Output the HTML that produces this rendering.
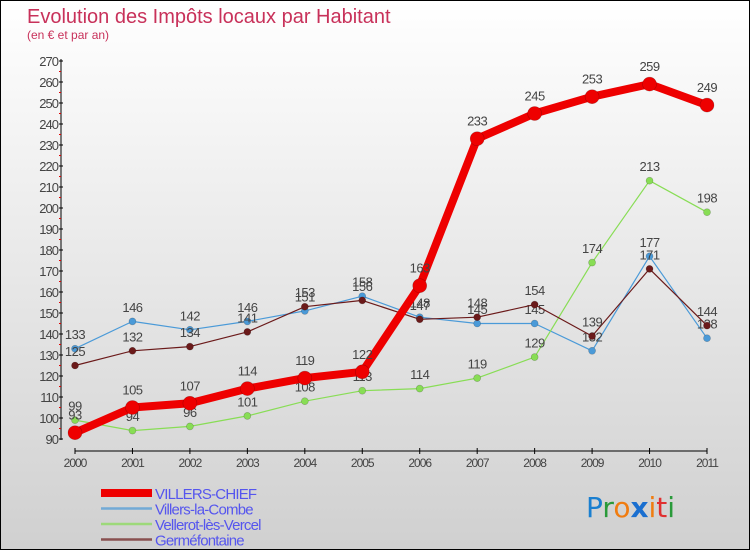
<!DOCTYPE html>
<html><head><meta charset="utf-8"><style>
html,body{margin:0;padding:0}
body{width:750px;height:550px;overflow:hidden;font-family:"Liberation Sans",sans-serif}
#wrap{position:absolute;left:0;top:0;width:748px;height:548px;border:1px solid #000;background:linear-gradient(#ffffff,#d0d0d0)}
</style></head><body>
<div id="wrap">
<svg id="chart" width="748" height="548" xmlns="http://www.w3.org/2000/svg">
<text x="26" y="22" font-size="20" fill="#c8315a">Evolution des Impôts locaux par Habitant</text>
<text x="26" y="38" font-size="12" fill="#c8315a">(en € et par an)</text>
<g id="axes"></g><g id="series"></g>
<g id="legend"></g>
<text x="585" y="516" font-size="28" font-family="'DejaVu Sans',sans-serif"><tspan fill="#1a7fd0">P</tspan><tspan fill="#2a9a3a">r</tspan><tspan fill="#f07c10">o</tspan><tspan fill="#1a6fd0" font-weight="bold">x</tspan><tspan fill="#f07c10">i</tspan><tspan fill="#e03030">t</tspan><tspan fill="#2a9a3a">i</tspan></text>
</svg></div>
<script>
const years=[2000,2001,2002,2003,2004,2005,2006,2007,2008,2009,2010,2011];
const yTicks=[90,100,110,120,130,140,150,160,170,180,190,200,210,220,230,240,250,260,270];
const villersChief=[93,105,107,114,119,122,163,233,245,253,259,249];
const villersLaCombe=[133,146,142,146,151,158,148,145,145,132,177,138];
const vellerot=[99,94,96,101,108,113,114,119,129,174,213,198];
const germefontaine=[125,132,134,141,153,156,147,148,154,139,171,144];
const NS="http://www.w3.org/2000/svg";
const X0=74,X1=706,Y0=438,YMIN=90,YMAX=270,Y1=60;
const xs=i=>X0+(X1-X0)*i/(years.length-1);
const ys=v=>Y0-(v-YMIN)*(Y0-Y1)/(YMAX-YMIN);
function mk(tag,attrs,parent){const e=document.createElementNS(NS,tag);for(const k in attrs)e.setAttribute(k,attrs[k]);parent.appendChild(e);return e;}
const axes=document.getElementById('axes');
let e=mk('line',{x1:60,y1:Y1-2,x2:60,y2:Y0+1,stroke:'#000','stroke-width':1},axes);


e=mk('line',{x1:X0,y1:450,x2:X1,y2:450,stroke:'#000','stroke-width':1},axes);


yTicks.forEach((t,i)=>{
  const y=ys(t);
  mk('line',{x1:58,y1:y,x2:62,y2:y,stroke:'#000'},axes);
  if(i<yTicks.length-1) mk('line',{x1:58,y1:y-(Y0-Y1)/36,x2:60,y2:y-(Y0-Y1)/36,stroke:'#e00000'},axes);
  const tx=mk('text',{x:57,y:y+5,'font-size':13,fill:'#444','text-anchor':'end','letter-spacing':'-1'},axes);
  tx.textContent=t;
  
  
});
years.forEach((yr,i)=>{
  const x=xs(i);
  mk('line',{x1:x,y1:447,x2:x,y2:453,stroke:'#000'},axes);
  const tx=mk('text',{x:x,y:466,'font-size':12,fill:'#444','text-anchor':'middle','letter-spacing':'-1'},axes);
  tx.textContent=yr;
  
  
});
const series=[
 {name:'Villers-la-Combe',data:villersLaCombe,color:'#4a9ad8',w:1.2,r:3.5,id:'villers-la-combe'},
 {name:'Vellerot-lès-Vercel',data:vellerot,color:'#88dd55',w:1.2,r:3.5,id:'vellerot-les-vercel'},
 {name:'Germéfontaine',data:germefontaine,color:'#6b1a1a',w:1.2,r:3.5,id:'germefontaine'},
 {name:'VILLERS-CHIEF',data:villersChief,color:'#ee0000',w:8,r:7,id:'villers-chief'}
];
const sg=document.getElementById('series');
series.forEach(s=>{
  const g=mk('g',{},sg);
  
  
  const pts=s.data.map((v,i)=>xs(i)+','+ys(v)).join(' ');
  const pl=mk('polyline',{points:pts,fill:'none',stroke:s.color,'stroke-width':s.w,'stroke-linejoin':'round'},g);
  
  
  s.data.forEach((v,i)=>{
    const c=mk('circle',{cx:xs(i),cy:ys(v),r:s.r,fill:s.color,stroke:'rgba(0,0,0,0.25)','stroke-width':0.6},g);
    
    
    const t=mk('text',{x:xs(i),y:ys(v)-(s.r+6),'font-size':13,fill:'#444','text-anchor':'middle','letter-spacing':'-0.5'},g);
    t.textContent=v;
    
    
  });
});
const lg=document.getElementById('legend');
const order=[series[3],series[0],series[1],series[2]];
order.forEach((s,i)=>{
  const y=492+i*15.5;
  const sw=mk('line',{x1:100,y1:y,x2:151,y2:y,stroke:s.color,'stroke-width':s.id==='villers-chief'?8:2.5,opacity:s.id==='villers-chief'?1:0.7},lg);
  
  
  const t=mk('text',{x:154,y:y+6,'font-size':15,fill:'#5555ee','letter-spacing':'-0.8'},lg);
  t.textContent=s.name;
  
  
});
</script>
</body></html>
